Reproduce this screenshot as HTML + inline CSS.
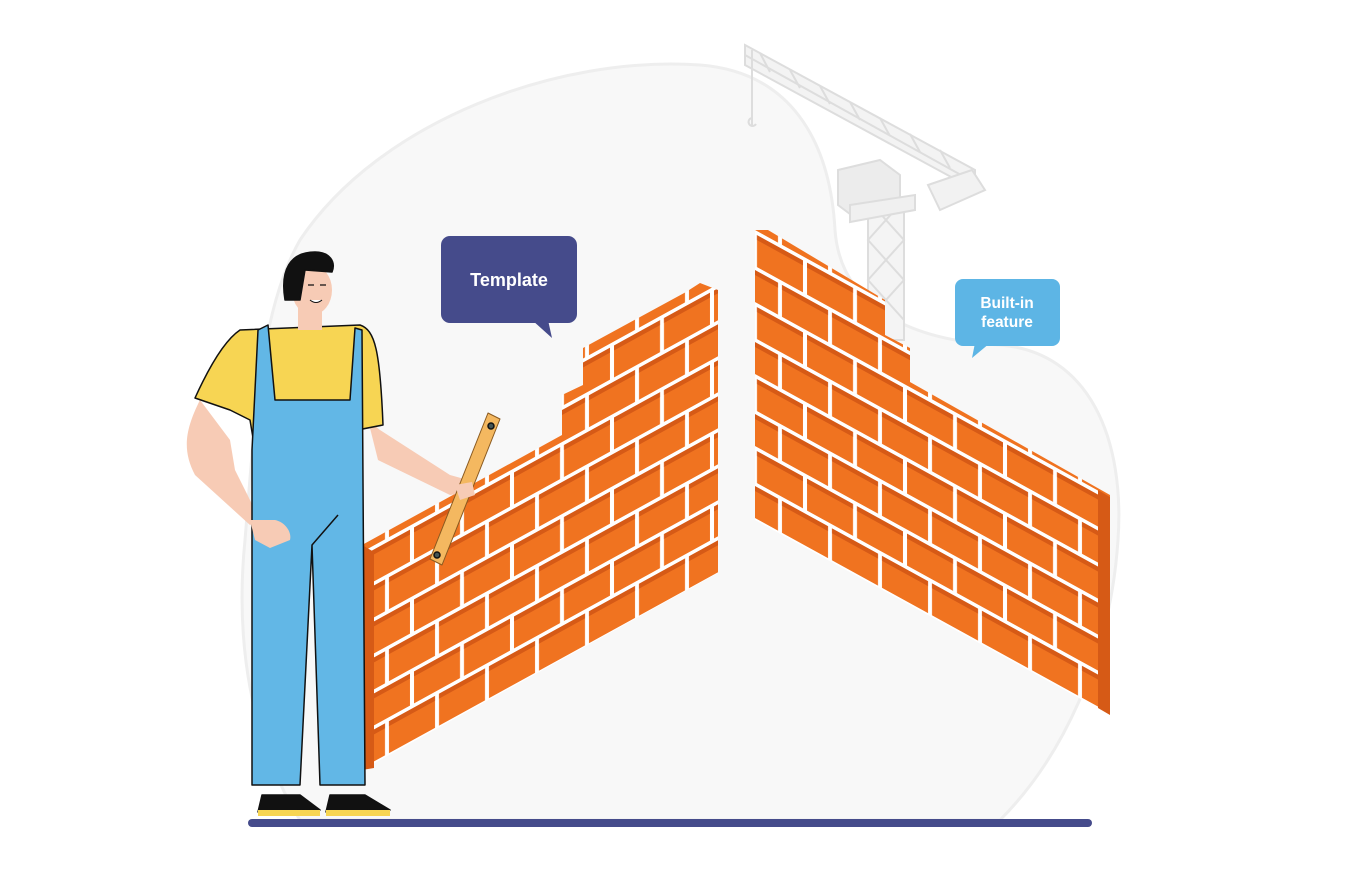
<!DOCTYPE html>
<html><head><meta charset="utf-8"><style>
html,body{margin:0;padding:0;background:#fff;width:1360px;height:881px;overflow:hidden}
svg{display:block}
text{font-family:"Liberation Sans",sans-serif;font-weight:bold;fill:#fff}
</style></head><body>
<svg width="1360" height="881" viewBox="0 0 1360 881" xmlns="http://www.w3.org/2000/svg">
<defs>
<pattern id="bl" patternUnits="userSpaceOnUse" width="100" height="72" patternTransform="translate(362,770) skewY(-28.8)">
<rect width="100" height="72" fill="#fff"/>
<g fill="#f07320">
<rect x="2" y="2" width="46" height="32"/><rect x="52" y="2" width="46" height="32"/>
<rect x="-23" y="38" width="46" height="32"/><rect x="27" y="38" width="46" height="32"/><rect x="77" y="38" width="46" height="32"/>
</g>
<g fill="#d65a16">
<rect x="2" y="2" width="46" height="5"/><rect x="52" y="2" width="46" height="5"/>
<rect x="-23" y="38" width="46" height="5"/><rect x="27" y="38" width="46" height="5"/><rect x="77" y="38" width="46" height="5"/>
</g>
</pattern>
<pattern id="br" patternUnits="userSpaceOnUse" width="100" height="72" patternTransform="translate(755,520) skewY(28.8)">
<rect width="100" height="72" fill="#fff"/>
<g fill="#f07320">
<rect x="2" y="2" width="46" height="32"/><rect x="52" y="2" width="46" height="32"/>
<rect x="-23" y="38" width="46" height="32"/><rect x="27" y="38" width="46" height="32"/><rect x="77" y="38" width="46" height="32"/>
</g>
<g fill="#d65a16">
<rect x="2" y="2" width="46" height="5"/><rect x="52" y="2" width="46" height="5"/>
<rect x="-23" y="38" width="46" height="5"/><rect x="27" y="38" width="46" height="5"/><rect x="77" y="38" width="46" height="5"/>
</g>
</pattern>
</defs>
<path d="M300,240 C380,120 560,55 700,65 C790,72 830,140 835,230 C840,300 900,340 1000,345 C1090,352 1125,440 1118,540 C1110,660 1060,760 1000,820 L300,820 C250,740 235,640 245,540 C255,420 260,310 300,240 Z" fill="#f8f8f8" stroke="#eeeeee" stroke-width="3"/>
<g stroke="#ddd" stroke-width="2" fill="none">
<path d="M745,45 L975,170 L975,190 L745,65 Z" fill="#f3f3f3"/>
<path d="M745,55 L970,180"/>
<path d="M760,53 L770,72 M790,70 L800,88 M820,86 L830,104 M850,102 L860,120 M880,118 L890,136 M910,134 L920,152 M940,150 L950,168"/>
<path d="M752,50 L752,125"/>
<path d="M752,118 a4,4 0 1 0 4,6"/>
<rect x="868" y="200" width="36" height="140" fill="#f4f4f4"/>
<path d="M868,200 L904,240 L868,280 L904,320 M904,200 L868,240 L904,280 L868,320"/>
<path d="M838,170 L880,160 L900,175 L900,210 L858,220 L838,205 Z" fill="#ececec"/>
<path d="M850,205 L915,195 L915,210 L850,222 Z" fill="#f0f0f0"/>
<path d="M928,185 L972,170 L985,190 L940,210 Z" fill="#f2f2f2"/>
</g>
<path d="M362,770 L718,573 L718,290 L700,283 L686,292 L583,348 L583,385 L562,395 L562,435 L362,545 Z" fill="url(#bl)"/>
<path d="M362,545 L374,552 L374,768 L362,770 Z" fill="#d65a16"/>
<path d="M755,230 L755,520 L1110,715 L1110,495 L910,382 L910,348 L885,335 L885,300 L768,230 Z" fill="url(#br)"/>
<path d="M1098,490 L1110,497 L1110,715 L1098,708 Z" fill="#d65a16"/>
<rect x="441" y="236" width="136" height="87" rx="9" fill="#454b8b"/>
<path d="M532,320 L552,338 L548,320 Z" fill="#454b8b"/>
<text x="509" y="286" font-size="18" text-anchor="middle">Template</text>
<rect x="955" y="279" width="105" height="67" rx="8" fill="#5db5e5"/>
<path d="M975,343 L972,358 L990,343 Z" fill="#5db5e5"/>
<text x="1007" y="308" font-size="15.5" text-anchor="middle">Built-in</text>
<text x="1007" y="327" font-size="15.5" text-anchor="middle">feature</text>
<g stroke="#111" stroke-width="1.5" stroke-linejoin="round">
<path d="M200,400 C185,430 182,450 195,475 L250,525 L260,520 L235,470 L230,440 Z" fill="#f7cbb5" stroke="none"/>
<path d="M368,420 L378,460 L450,495 L470,492 L468,480 L450,475 L380,430 Z" fill="#f7cbb5" stroke="none"/>
<path d="M240,330 L360,325 C375,330 380,350 383,425 L255,450 L250,420 L230,410 L195,398 C210,365 225,340 240,330 Z" fill="#f7d553"/>
<path d="M298,305 L322,305 L322,330 L298,330 Z" fill="#f7cbb5" stroke="none"/>
<ellipse cx="312" cy="290" rx="20" ry="25" fill="#f7cbb5" stroke="none"/>
<path d="M285,300 C280,270 290,252 315,252 C330,252 336,262 332,272 L305,270 L300,300 Z" fill="#111"/>
<path d="M308,285 l6,0 M320,285 l6,0" stroke-width="1.2"/>
<path d="M310,300 q6,5 12,0" fill="#fff" stroke-width="1"/>
<path d="M268,325 L275,400 L350,400 L355,328 L362,330 L365,785 L320,785 L312,545 L300,785 L252,785 L252,450 L258,330 Z" fill="#62b7e6"/>
<path d="M312,545 L338,515" fill="none"/>
<path d="M250,520 L275,520 C285,522 292,532 290,540 L270,548 L255,540 Z" fill="#f7cbb5" stroke="none"/>
<path d="M262,795 L300,795 L320,810 L258,812 Z" fill="#111"/>
<rect x="258" y="810" width="62" height="6" fill="#f7d553" stroke="none"/>
<path d="M330,795 L365,795 L390,810 L326,812 Z" fill="#111"/>
<rect x="326" y="810" width="64" height="6" fill="#f7d553" stroke="none"/>
<path d="M488,413 L500,419 L442,565 L430,559 Z" fill="#f4b860" stroke="#8a5a20" stroke-width="1"/>
<circle cx="491" cy="426" r="3" fill="#455"/><circle cx="437" cy="555" r="3" fill="#455"/>
<path d="M455,485 L472,482 L475,495 L460,500 Z" fill="#f7cbb5" stroke="none"/>
</g>
<line x1="252" y1="823" x2="1088" y2="823" stroke="#454b8b" stroke-width="8" stroke-linecap="round"/>
</svg>
</body></html>
